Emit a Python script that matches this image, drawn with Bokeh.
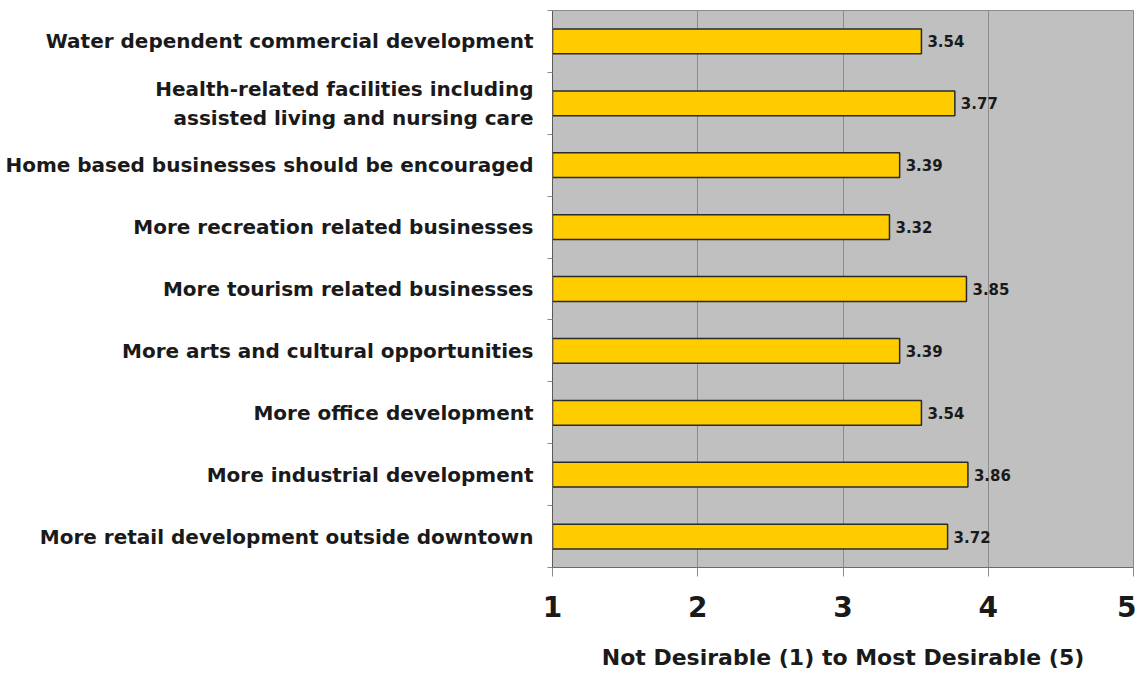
from bokeh.plotting import figure
from bokeh.models import FixedTicker, ColumnDataSource, Range1d
from bokeh.embed import file_html
from bokeh.resources import INLINE
from bokeh.core.properties import value

categories = [
    "Water dependent commercial development",
    "Health-related facilities including\nassisted living and nursing care",
    "Home based businesses should be encouraged",
    "More recreation related businesses",
    "More tourism related businesses",
    "More arts and cultural opportunities",
    "More office development",
    "More industrial development",
    "More retail development outside downtown",
]
scores = [3.54, 3.77, 3.39, 3.32, 3.85, 3.39, 3.54, 3.86, 3.72]
x_ticks = [1, 2, 3, 4, 5]
x_title = "Not Desirable (1) to Most Desirable (5)"

n = len(categories)
ypos = [n - i - 0.5 for i in range(n)]
src = ColumnDataSource(dict(y=ypos, v=scores, lab=["%.2f" % s for s in scores]))

p = figure(width=1136, height=672, output_backend="svg", toolbar_location=None,
           x_range=Range1d(1, 5), y_range=Range1d(0, n),
           min_border_left=552, min_border_right=3, min_border_top=10, min_border_bottom=104)
p.background_fill_color = "#c0c0c0"
p.border_fill_color = "white"
p.outline_line_color = "#8a8a8a"
p.outline_line_width = 1

p.hbar(y="y", left=1, right="v", height=0.4, source=src,
       fill_color="#ffcc00", line_color="#2a2a2a", line_width=1.5)
p.text(x="v", y="y", text="lab", source=src, x_offset=6,
       text_baseline="middle", text_align="left",
       text_font=value("DejaVu Sans"), text_font_style="bold",
       text_font_size="15px", text_color="#1a1a1a")

# grids
p.ygrid.grid_line_color = None
p.xgrid.ticker = FixedTicker(ticks=x_ticks)
p.xgrid.grid_line_color = "#8c8c8c"
p.xgrid.grid_line_width = 1

# x axis
xa = p.xaxis[0]
xa.ticker = FixedTicker(ticks=x_ticks)
xa.axis_line_color = "#6a6a6a"
xa.major_tick_line_color = "#8a8a8a"
xa.major_tick_out = 9
xa.major_tick_in = 0
xa.minor_tick_line_color = None
xa.major_label_text_font = "DejaVu Sans"
xa.major_label_text_font_style = "bold"
xa.major_label_text_font_size = "28px"
xa.major_label_text_color = "#1a1a1a"
xa.major_label_standoff = 19
xa.axis_label = x_title
xa.axis_label_text_font = "DejaVu Sans"
xa.axis_label_text_font_style = "bold"
xa.axis_label_text_font_size = "22px"
xa.axis_label_text_color = "#1a1a1a"
xa.axis_label_standoff = 25

# y axis
ya = p.yaxis[0]
ya.ticker = FixedTicker(ticks=ypos, minor_ticks=list(range(n + 1)))
ya.major_label_overrides = {y: c for y, c in zip(ypos, categories)}
ya.axis_line_color = "#5a5a5a"
ya.major_tick_out = 0
ya.major_tick_in = 0
ya.major_tick_line_color = None
ya.minor_tick_out = 5
ya.minor_tick_in = 0
ya.minor_tick_line_color = "#8a8a8a"
ya.major_label_text_font = "DejaVu Sans"
ya.major_label_text_font_style = "bold"
ya.major_label_text_font_size = "20px"
ya.major_label_text_color = "#1a1a1a"
ya.major_label_standoff = 14
ya.major_label_text_align = "right"

open("out.html", "w").write(file_html(p, INLINE))
